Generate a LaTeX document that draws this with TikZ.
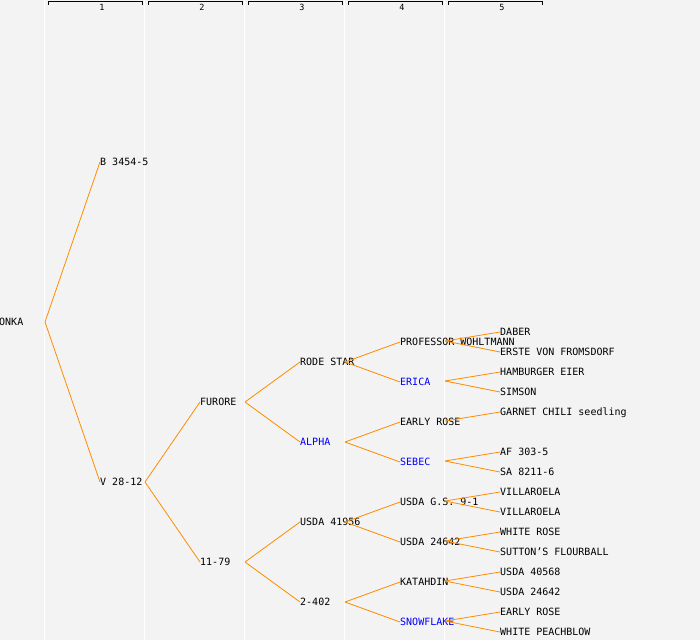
\documentclass[tikz,border=0pt]{standalone}
\usepackage{fontspec}
\setmonofont{DejaVu Sans Mono}
\definecolor{linkorange}{RGB}{255,140,0}
\definecolor{bggray}{RGB}{243,243,243}
\definecolor{markblue}{RGB}{0,0,255}

\begin{document}
\begin{tikzpicture}[
  x=1pt, y=-1pt,
  cv/.style={anchor=west, inner sep=0pt, text height=7pt, text depth=0pt,
             font=\ttfamily\fontsize{10}{10}\selectfont},
  marked/.style={cv, text=markblue},
  link/.style={draw=linkorange, line width=0.8pt},
  colsep/.style={draw=white, line width=1.2pt},
  colnum/.style={inner sep=0pt, font=\ttfamily\fontsize{8.5}{8.5}\selectfont}
]

\useasboundingbox (0,0) rectangle (700,640);
\fill[bggray] (0,0) rectangle (700,640);

% ---- Column separators ----
\draw[colsep] (44.5,0) -- (44.5,640);
\draw[colsep] (144.5,0) -- (144.5,640);
\draw[colsep] (244.5,0) -- (244.5,640);
\draw[colsep] (344.5,0) -- (344.5,640);
\draw[colsep] (444.5,0) -- (444.5,640);

% ---- Column headers ----
\draw[line width=0.8pt] (48,4.5) -- (48,1.5) -- (142,1.5) -- (142,4.5);
\draw[line width=0.8pt] (148,4.5) -- (148,1.5) -- (242,1.5) -- (242,4.5);
\draw[line width=0.8pt] (248,4.5) -- (248,1.5) -- (342,1.5) -- (342,4.5);
\draw[line width=0.8pt] (348,4.5) -- (348,1.5) -- (442,1.5) -- (442,4.5);
\draw[line width=0.8pt] (448,4.5) -- (448,1.5) -- (542,1.5) -- (542,4.5);
\node[colnum] (h1) at (102,7) {1};
\node[colnum] (h2) at (202,7) {2};
\node[colnum] (h3) at (302,7) {3};
\node[colnum] (h4) at (402,7) {4};
\node[colnum] (h5) at (502,7) {5};

% ---- Generation 0 ----
\node[cv] (onka) at (-1,322) {ONKA};

% ---- Generation 1 ----
\node[cv] (b3454) at (100,162) {B 3454-5};
\node[cv] (v2812) at (100,482) {V 28-12};

% ---- Generation 2 ----
\node[cv] (furore) at (200,402) {FURORE};
\node[cv] (n1179) at (200,562) {11-79};

% ---- Generation 3 ----
\node[cv] (rodestar) at (300,362) {RODE STAR};
\node[marked] (alpha) at (300,442) {ALPHA};
\node[cv] (usda41956) at (300,522) {USDA 41956};
\node[cv] (n2402) at (300,602) {2-402};

% ---- Generation 4 ----
\node[cv] (professor) at (400,342) {PROFESSOR WOHLTMANN};
\node[marked] (erica) at (400,382) {ERICA};
\node[cv] (earlyrose) at (400,422) {EARLY ROSE};
\node[marked] (sebec) at (400,462) {SEBEC};
\node[cv] (usdags) at (400,502) {USDA G.S. 9-1};
\node[cv] (usda24642) at (400,542) {USDA 24642};
\node[cv] (katahdin) at (400,582) {KATAHDIN};
\node[marked] (snowflake) at (400,622) {SNOWFLAKE};

% ---- Generation 5 ----
\node[cv] (daber) at (500,332) {DABER};
\node[cv] (erste) at (500,352) {ERSTE VON FROMSDORF};
\node[cv] (hamburger) at (500,372) {HAMBURGER EIER};
\node[cv] (simson) at (500,392) {SIMSON};
\node[cv] (garnet) at (500,412) {GARNET CHILI seedling};
\node[cv] (af303) at (500,452) {AF 303-5};
\node[cv] (sa8211) at (500,472) {SA 8211-6};
\node[cv] (villa1) at (500,492) {VILLAROELA};
\node[cv] (villa2) at (500,512) {VILLAROELA};
\node[cv] (whiterose) at (500,532) {WHITE ROSE};
\node[cv] (sutton) at (500,552) {SUTTON’S FLOURBALL};
\node[cv] (usda40568) at (500,572) {USDA 40568};
\node[cv] (usda24642b) at (500,592) {USDA 24642};
\node[cv] (earlyroseb) at (500,612) {EARLY ROSE};
\node[cv] (peachblow) at (500,632) {WHITE PEACHBLOW};

% ---- Fork points ----
\coordinate (onka-f) at (45,322);
\coordinate (v2812-f) at (145,482);
\coordinate (furore-f) at (245,402);
\coordinate (n1179-f) at (245,562);
\coordinate (rodestar-f) at (345,362);
\coordinate (alpha-f) at (345,442);
\coordinate (usda41956-f) at (345,522);
\coordinate (n2402-f) at (345,602);
\coordinate (professor-f) at (445,341);
\coordinate (erica-f) at (445,381);
\coordinate (earlyrose-f) at (445,421);
\coordinate (sebec-f) at (445,461);
\coordinate (usdags-f) at (445,501);
\coordinate (usda24642-f) at (445,541);
\coordinate (katahdin-f) at (445,581);
\coordinate (snowflake-f) at (445,621);

% ---- Edges ----
\draw[link] (onka-f) -- (b3454.west);
\draw[link] (onka-f) -- (v2812.west);

\draw[link] (v2812-f) -- (furore.west);
\draw[link] (v2812-f) -- (n1179.west);

\draw[link] (furore-f) -- (rodestar.west);
\draw[link] (furore-f) -- (alpha.west);
\draw[link] (n1179-f) -- (usda41956.west);
\draw[link] (n1179-f) -- (n2402.west);

\draw[link] (rodestar-f) -- (professor.west);
\draw[link] (rodestar-f) -- (erica.west);
\draw[link] (alpha-f) -- (earlyrose.west);
\draw[link] (alpha-f) -- (sebec.west);
\draw[link] (usda41956-f) -- (usdags.west);
\draw[link] (usda41956-f) -- (usda24642.west);
\draw[link] (n2402-f) -- (katahdin.west);
\draw[link] (n2402-f) -- (snowflake.west);

\draw[link] (professor-f) -- (daber.west);
\draw[link] (professor-f) -- (erste.west);
\draw[link] (erica-f) -- (hamburger.west);
\draw[link] (erica-f) -- (simson.west);
\draw[link] (earlyrose-f) -- (garnet.west);
\draw[link] (sebec-f) -- (af303.west);
\draw[link] (sebec-f) -- (sa8211.west);
\draw[link] (usdags-f) -- (villa1.west);
\draw[link] (usdags-f) -- (villa2.west);
\draw[link] (usda24642-f) -- (whiterose.west);
\draw[link] (usda24642-f) -- (sutton.west);
\draw[link] (katahdin-f) -- (usda40568.west);
\draw[link] (katahdin-f) -- (usda24642b.west);
\draw[link] (snowflake-f) -- (earlyroseb.west);
\draw[link] (snowflake-f) -- (peachblow.west);

\end{tikzpicture}
\end{document}
